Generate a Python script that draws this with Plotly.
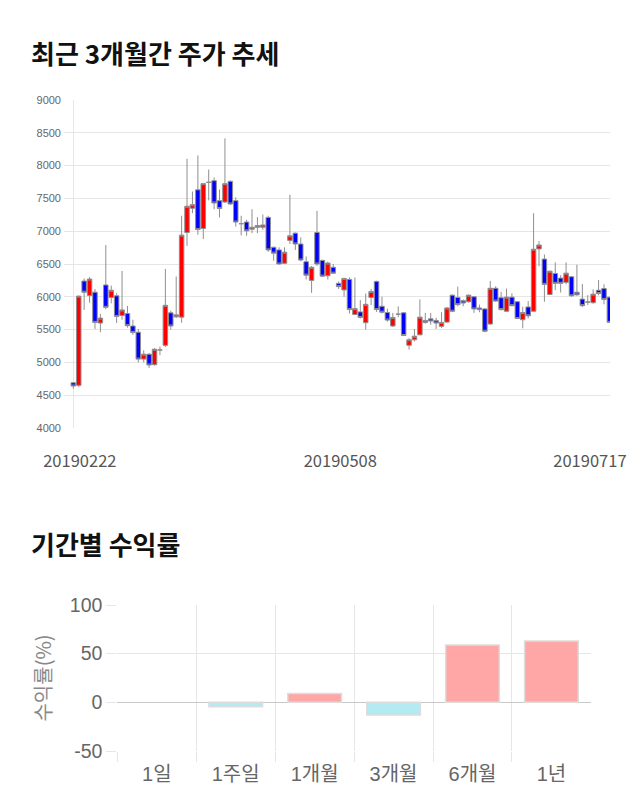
import plotly.graph_objects as go

W, H = 640, 810

# ---- candlestick data (index = trading day, 2019-02-22 .. 2019-07-17) ----
opens = [4690, 4650, 6240, 6020, 6070, 5600, 6180, 5990, 6015, 5715,
         5745, 5555, 5460, 5050, 5125, 4965, 5190, 5260, 5755, 5695,
         5690, 6980, 7350, 7630, 7040, 7745, 7770, 7465, 7445, 7760,
         7465, 7115, 7140, 7030, 7085, 7060, 7210, 6755, 6715, 6510,
         6860, 6970, 6805, 6535, 6250, 6980, 6555, 6320, 6450, 6205,
         6105, 6265, 5730, 5770, 5605, 5990, 6235, 5855, 5760, 5555,
         5735, 5755, 5260, 5345, 5420, 5640, 5665, 5640, 5550, 5615,
         6025, 5990, 5940, 5925, 6000, 5830, 5815, 5585, 6130, 5985,
         5780, 5995, 5925, 5650, 5845, 5780, 6730, 6575, 6035, 6355,
         6285, 6220, 6305, 6070, 5965, 5920, 5910, 6100, 6125, 5995]
highs = [4700, 6020, 6280, 6300, 6120, 5740, 6790, 6170, 6055, 6395,
         5860, 5650, 5510, 5185, 5140, 5220, 5240, 6425, 5790, 6310,
         7235, 8105, 7605, 8155, 7730, 7940, 7820, 7635, 8415, 7775,
         7515, 7235, 7175, 7335, 7215, 7255, 7235, 6765, 6755, 6755,
         7555, 6980, 6905, 6615, 6470, 7310, 6565, 6535, 6500, 6235,
         6290, 6295, 6295, 5950, 6050, 6120, 6245, 6000, 5820, 5755,
         5855, 5765, 5370, 5510, 5960, 5755, 5755, 5680, 5765, 5845,
         6035, 6155, 5960, 6035, 6010, 5880, 5830, 6240, 6160, 6075,
         6125, 6055, 5935, 5850, 5935, 7275, 6850, 6645, 6400, 6525,
         6330, 6525, 6315, 6490, 6195, 6025, 6115, 6255, 6190, 6000]
lows = [4600, 4620, 5800, 5910, 5510, 5460, 5810, 5900, 5600, 5650,
        5530, 5420, 5000, 5000, 4915, 4950, 5110, 5235, 5500, 5675,
        5605, 6775, 7275, 6945, 6880, 7470, 7335, 7210, 7430, 7400,
        7070, 6935, 6930, 6970, 6970, 7020, 6685, 6550, 6490, 6500,
        6805, 6715, 6540, 6265, 6060, 6470, 6300, 6265, 6350, 6120,
        6000, 5745, 5720, 5670, 5500, 5875, 5770, 5745, 5620, 5540,
        5690, 5400, 5195, 5320, 5415, 5590, 5575, 5510, 5525, 5600,
        5765, 5855, 5855, 5910, 5755, 5765, 5460, 5575, 5925, 5790,
        5770, 5855, 5660, 5520, 5670, 5770, 6465, 5925, 6025, 6100,
        6065, 6190, 6000, 6015, 5845, 5875, 5895, 6025, 5885, 5600]
closes = [4640, 6010, 6070, 6270, 5610, 5675, 5840, 6100, 5700, 5800,
          5560, 5455, 5050, 5125, 4960, 5200, 5190, 5870, 5555, 5725,
          6940, 7380, 7405, 7025, 7725, 7745, 7430, 7345, 7725, 7415,
          7140, 7115, 7005, 7060, 7060, 7095, 6715, 6665, 6500, 6680,
          6930, 6805, 6560, 6330, 6450, 6500, 6315, 6515, 6360, 6155,
          6280, 5805, 5820, 5685, 5885, 6080, 5805, 5765, 5645, 5685,
          5735, 5410, 5345, 5400, 5690, 5610, 5630, 5600, 5610, 5830,
          5780, 5880, 5905, 6025, 5815, 5805, 5475, 6130, 5935, 5805,
          5995, 5865, 5670, 5760, 5710, 6725, 6790, 6190, 6390, 6205,
          6205, 6360, 6015, 6030, 5865, 5920, 6040, 6050, 5960, 5610]

date_ticks = ['20190222', '20190508', '20190717']
date_tick_pos = [1.2, 49.3, 95.4]
price_ticks = list(range(4000, 9001, 500))

# ---- period returns ----
periods = ['1일', '1주일', '1개월', '3개월', '6개월', '1년']
returns = [0, -4.5, 9.2, -13.0, 58.9, 63.0]
return_ticks = [-50, 0, 50, 100]
return_tick_text = ['-50', '0', '50', '100']

POS_COLOR = '#ffa6a6'
NEG_COLOR = '#b2ebf2'


def fx(p):
    return p / W


def fy(p):
    return 1 - p / H


fig = go.Figure()

fig.add_trace(go.Candlestick(
    x=list(range(len(opens))), open=opens, high=highs, low=lows, close=closes,
    increasing=dict(fillcolor='#ff0000', line=dict(color='#8f8f8f', width=1)),
    decreasing=dict(fillcolor='#0000ff', line=dict(color='#8f8f8f', width=1)),
    whiskerwidth=0, xaxis='x', yaxis='y', showlegend=False, hoverinfo='skip'))

fig.add_trace(go.Bar(
    x=list(range(len(periods))), y=returns, width=0.68,
    marker=dict(color=[POS_COLOR if v >= 0 else NEG_COLOR for v in returns],
                line=dict(color='#dddddd',
                          width=[1.5 if v != 0 else 0 for v in returns])),
    xaxis='x2', yaxis='y2', showlegend=False, hoverinfo='skip'))

grid = '#e6e6e6'

fig.update_layout(
    width=W, height=H,
    margin=dict(l=0, r=0, t=0, b=0, autoexpand=False),
    paper_bgcolor='white', plot_bgcolor='white',
    font=dict(family='Noto Sans CJK KR', color='#666666'),
    boxgap=0.17, boxgroupgap=0,
    xaxis=dict(
        domain=[fx(64), fx(610)], range=[-1.72, 99.11], automargin=False,
        tickmode='array', tickvals=date_tick_pos, ticktext=date_ticks,
        showgrid=False, zeroline=False, showline=False,
        ticks='outside', ticklen=18, tickcolor='rgba(0,0,0,0)',
        tickfont=dict(size=16.5, color='#555555', family='Noto Sans CJK KR'),
        rangeslider=dict(visible=False),
        minor=dict(tickmode='array', tickvals=[0], showgrid=True,
                   gridcolor=grid, gridwidth=1),
        fixedrange=True),
    yaxis=dict(
        domain=[fy(428), fy(100)], range=[4000, 9000], automargin=False,
        tickmode='array', tickvals=price_ticks,
        showgrid=True, gridcolor=grid, zeroline=False, showline=False,
        ticks='', ticklabelstandoff=2,
        tickfont=dict(size=11, color='#666666', family='Liberation Sans'),
        fixedrange=True),
    xaxis2=dict(
        domain=[fx(117.3), fx(590.9)], range=[-0.5, 5.5], anchor='y2', automargin=False,
        tickmode='array', tickvals=list(range(len(periods))), ticktext=periods,
        showgrid=False, zeroline=False, showline=False,
        ticks='outside', ticklen=5, tickcolor='rgba(0,0,0,0)',
        tickfont=dict(size=20, color='#666666', family='Liberation Sans, Noto Sans CJK KR'),
        minor=dict(tickmode='array', tickvals=[-0.5, 0.5, 1.5, 2.5, 3.5, 4.5],
                   showgrid=True, gridcolor=grid, ticks='outside', ticklen=10,
                   tickcolor=grid),
        fixedrange=True),
    yaxis2=dict(
        domain=[fy(751), fy(605)], range=[-50, 100], anchor='x2', automargin=False,
        tickmode='array', tickvals=return_ticks, ticktext=return_tick_text,
        showgrid=True, gridcolor=grid, zeroline=True, zerolinecolor='#c8c8c8',
        zerolinewidth=1, showline=False,
        ticks='outside', ticklen=10, tickcolor=grid,
        tickfont=dict(size=19.5, color='#666666', family='Liberation Sans'),
        title=dict(text='수익률(%)', standoff=12,
                   font=dict(size=20, color='#888888', family='Noto Sans CJK KR')),
        fixedrange=True),
    annotations=[
        dict(text='<b>최근 3개월간 주가 추세</b>', xref='paper', yref='paper',
             x=fx(29), y=fy(52), xanchor='left', yanchor='middle', showarrow=False,
             font=dict(size=26, color='#111111', family='Noto Sans CJK KR')),
        dict(text='<b>기간별 수익률</b>', xref='paper', yref='paper',
             x=fx(29), y=fy(543), xanchor='left', yanchor='middle', showarrow=False,
             font=dict(size=26, color='#111111', family='Noto Sans CJK KR')),
    ],
)

fig.write_html('out.html')
